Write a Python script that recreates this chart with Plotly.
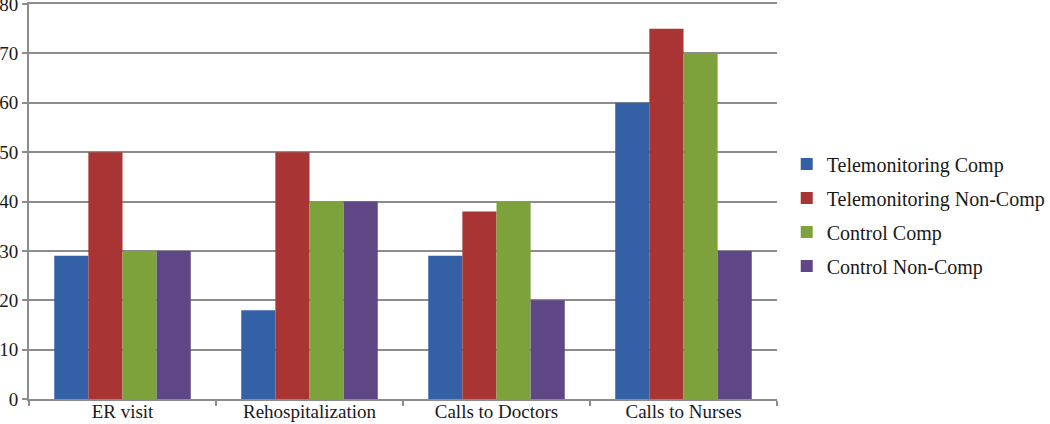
import plotly.graph_objects as go

categories = ["ER visit", "Rehospitalization", "Calls to Doctors", "Calls to Nurses"]
series_names = ["Telemonitoring Comp", "Telemonitoring Non-Comp", "Control Comp", "Control Non-Comp"]
tele_comp = [29, 18, 29, 60]
tele_noncomp = [50, 50, 38, 75]
control_comp = [30, 40, 40, 70]
control_noncomp = [30, 40, 20, 30]
colors = ["#3460A6", "#A83434", "#7EA23B", "#5F4786"]

values = [tele_comp, tele_noncomp, control_comp, control_noncomp]

fig = go.Figure()
for i, (name, vals, col) in enumerate(zip(series_names, values, colors)):
    fig.add_trace(go.Bar(x=categories, y=vals, name=name, legendgroup=f"g{i}",
                         marker=dict(color=col, line=dict(width=0))))

font_family = "Liberation Serif, DejaVu Serif, serif"
txt = "#1a1a1a"
fig.update_layout(
    width=1050, height=424,
    margin=dict(l=29, r=273, t=4, b=25, autoexpand=False),
    paper_bgcolor="white", plot_bgcolor="white",
    barmode="group", bargap=0.27, bargroupgap=0,
    font=dict(family=font_family, size=19, color=txt),
    legend=dict(x=1.013, xanchor="left", y=0.466, yanchor="middle",
                font=dict(size=20, family=font_family, color=txt),
                itemwidth=30, tracegroupgap=5, traceorder="grouped"),
    showlegend=True,
)
fig.update_xaxes(showline=True, mirror=True, linecolor="#8c8c8c", linewidth=2, tickson="boundaries",
                 ticks="outside", ticklen=5, tickcolor="#8c8c8c", tickwidth=2, showgrid=False,
                 automargin=False, ticklabelstandoff=-6,
                 tickfont=dict(size=19, family=font_family, color=txt))
fig.update_yaxes(range=[0, 80], dtick=10, showline=True, linecolor="#8c8c8c", linewidth=2,
                 ticks="outside", ticklen=5, tickcolor="#8c8c8c", tickwidth=2,
                 showgrid=True, gridcolor="#8c8c8c", gridwidth=2, zeroline=False,
                 automargin=False, ticklabeloverflow="allow",
                 tickfont=dict(size=19, family=font_family, color=txt))

fig.write_html("out.html", config={"displayModeBar": False},
               post_script="document.body.style.margin='0';document.body.style.overflow='hidden';")
